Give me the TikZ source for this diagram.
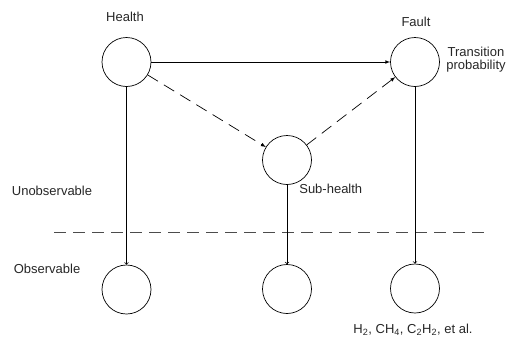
\documentclass[tikz,border=0pt]{standalone}
\usepackage{fontspec}
\setmainfont{Liberation Sans}
\usepackage{tikz}
\usetikzlibrary{arrows, positioning}

\begin{document}
\begin{tikzpicture}[x=1pt, y=-1pt, >=latex, line width=0.7pt,
  every node/.style={font=\fontsize{13}{15}\selectfont, text=black!85},
  hidden/.style={circle, draw, minimum size=49pt, inner sep=0pt},
  obs/.style={circle, draw, minimum size=49pt, inner sep=0pt},
  drop/.style={->, >=to}]
\useasboundingbox (0,0) rectangle (507,338);

% hidden states
\node[hidden] (health) at (126.5,62) {};
\node[hidden] (fault) at (415,62) {};
\node[hidden] (subhealth) at (287,160) {};

% observations
\node[obs] (obs left) at (126.5,289.5) {};
\node[obs] (obs mid) at (287,289) {};
\node[obs] (obs right) at (415,288.5) {};

% labels
\node (health label) at (125,17) {Health};
\node (fault label) at (416,22) {Fault};
\node[align=center, inner sep=0pt] (trans label) at (476,60) {Transition\\[-2pt]probability};
\node[anchor=west, inner sep=0pt] (sub label) at (299,189) {Sub-health};
\node (unobs label) at (52,191) {Unobservable};
\node (obs label) at (47,269) {Observable};
\node (gas label) at (413,330) {H\textsubscript{2}, CH\textsubscript{4}, C\textsubscript{2}H\textsubscript{2}, et al.};

% boundary
\coordinate (bound west) at (54,232);
\coordinate (bound east) at (486,232);
\draw[dash pattern=on 12pt off 7pt, black!70] (bound west) -- (bound east);

\draw[->, >={latex[scale=1.3]}] (health) -- (fault);
\draw[->, >={latex[scale=1.3]}, dash pattern=on 12pt off 7pt] (health) -- (subhealth);
\draw[->, >={latex[scale=1.3]}, dash pattern=on 12pt off 7pt] (subhealth) -- (fault);

\draw[drop] (health) -- (obs left);
\draw[drop] (subhealth) -- (obs mid);
\draw[drop] (fault) -- (obs right);

\end{tikzpicture}
\end{document}
